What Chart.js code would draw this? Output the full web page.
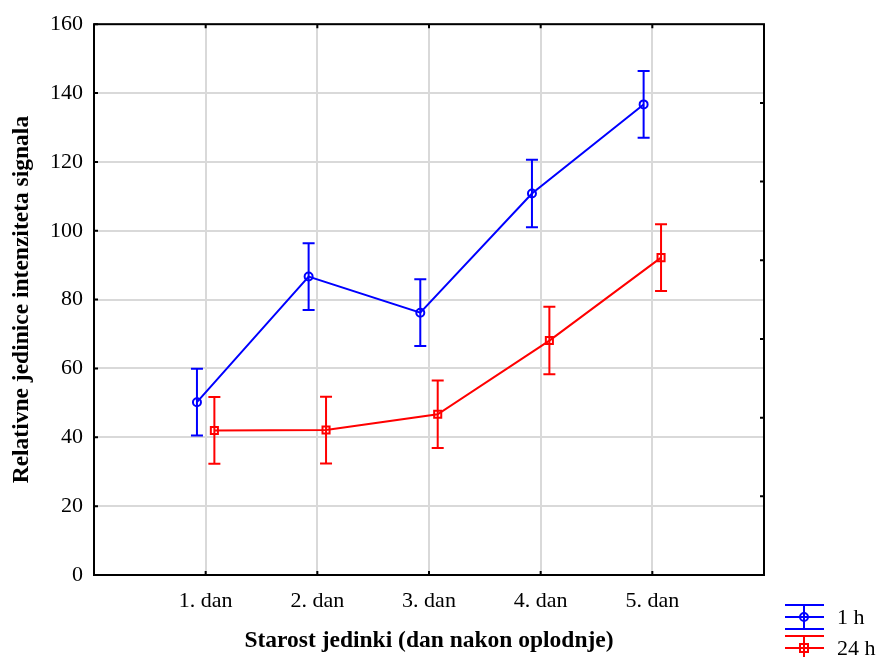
<!DOCTYPE html>
<html>
<head>
<meta charset="utf-8">
<script src="https://cdn.jsdelivr.net/npm/chart.js@4"></script>
<style>body{margin:0;background:#fff}</style>
</head>
<body>
<canvas id="chart" width="880" height="657"></canvas>
<script>
// podaci ocitani sa slike
const categories = ['1. dan', '2. dan', '3. dan', '4. dan', '5. dan'];
const seriesNames = ['1 h', '24 h'];
const values1h = [50.2, 86.7, 76.2, 110.8, 136.7];
const values24h = [42.0, 42.1, 46.7, 68.1, 92.2];
const err1h = [9.7, 9.7, 9.7, 9.8, 9.7];
const err24h = [9.7, 9.7, 9.8, 9.8, 9.7];
const colors = ['#0000ff', '#ff0000'];

const FONT = 'Liberation Serif';
const GRID = '#d9d9d9';

// pomak tacaka lijevo/desno od kategorije
function toPoints(vals, shift) {
    return vals.map((v, i) => ({x: i + 1 + shift, y: v}));
}

const errorBars = {
    id: 'errorBars',
    afterDatasetsDraw(chart) {
        const {ctx, scales: {x, y}} = chart;
        chart.data.datasets.forEach(ds => {
            ctx.save();
            ctx.strokeStyle = ds.borderColor;
            ctx.lineWidth = 2;
            ds.data.forEach((pt, j) => {
                const px = x.getPixelForValue(pt.x);
                const top = y.getPixelForValue(pt.y + ds.errors[j]);
                const bot = y.getPixelForValue(pt.y - ds.errors[j]);
                ctx.beginPath();
                ctx.moveTo(px, top); ctx.lineTo(px, bot);
                ctx.moveTo(px - 6, top); ctx.lineTo(px + 6, top);
                ctx.moveTo(px - 6, bot); ctx.lineTo(px + 6, bot);
                ctx.stroke();
            });
            ctx.restore();
        });
    }
};

const frame = {
    id: 'frame',
    afterDraw(chart) {
        const {ctx, chartArea: a, scales: {x, y}} = chart;
        ctx.save();
        ctx.strokeStyle = '#000';
        ctx.lineWidth = 2;
        ctx.strokeRect(a.left, a.top, a.width, a.height);
        ctx.beginPath();
        y.ticks.forEach(t => {
            const py = y.getPixelForValue(t.value);
            ctx.moveTo(a.left, py); ctx.lineTo(a.left + 4, py);
        });
        x.ticks.forEach(t => {
            if (t.value <= 0 || t.value >= 6) return;
            const px = x.getPixelForValue(t.value);
            ctx.moveTo(px, a.bottom); ctx.lineTo(px, a.bottom - 4);
            ctx.moveTo(px, a.top); ctx.lineTo(px, a.top + 4);
        });
        // desna osa ima 7 podjela
        for (let i = 1; i < 7; i++) {
            const py = a.bottom - i * a.height / 7;
            ctx.moveTo(a.right, py); ctx.lineTo(a.right - 4, py);
        }
        ctx.stroke();
        ctx.restore();
    }
};

const legendBox = {
    id: 'legendBox',
    afterDraw(chart) {
        const ctx = chart.ctx;
        const rows = [617, 648];
        ctx.save();
        chart.data.datasets.forEach((ds, i) => {
            const cy = rows[i];
            ctx.strokeStyle = ds.borderColor;
            ctx.lineWidth = 2;
            ctx.beginPath();
            [-12, 0, 12].forEach(d => { ctx.moveTo(785, cy + d); ctx.lineTo(824, cy + d); });
            ctx.moveTo(804, cy - 12); ctx.lineTo(804, cy + 12);
            ctx.stroke();
            ctx.beginPath();
            if (i === 0) ctx.arc(804, cy, 4, 0, Math.PI * 2);
            else ctx.rect(800, cy - 4, 8, 8);
            ctx.stroke();
            ctx.fillStyle = '#000';
            ctx.font = '22px "' + FONT + '"';
            ctx.textBaseline = 'middle';
            ctx.fillText(ds.label, 837, cy + 1);
        });
        ctx.restore();
    }
};

new Chart(document.getElementById('chart'), {
    type: 'line',
    data: {
        datasets: [
            {
                label: seriesNames[0],
                data: toPoints(values1h, -0.078),
                errors: err1h,
                borderColor: colors[0],
                borderWidth: 2,
                pointStyle: 'circle',
                pointRadius: 4,
                pointBorderWidth: 2,
                pointBackgroundColor: 'transparent',
                pointBorderColor: colors[0],
                tension: 0
            },
            {
                label: seriesNames[1],
                data: toPoints(values24h, 0.078),
                errors: err24h,
                borderColor: colors[1],
                borderWidth: 2,
                pointStyle: 'rect',
                pointRadius: 5,
                pointBorderWidth: 2,
                pointBackgroundColor: 'transparent',
                pointBorderColor: colors[1],
                tension: 0
            }
        ]
    },
    options: {
        responsive: false,
        animation: false,
        layout: {padding: {left: 0, top: 22, right: 116, bottom: 0}},
        plugins: {legend: {display: false}, tooltip: {enabled: false}},
        scales: {
            x: {
                type: 'linear',
                min: 0,
                max: 6,
                afterFit: s => { s.height = 82; },
                ticks: {
                    stepSize: 1,
                    padding: 13,
                    color: '#000',
                    font: {family: FONT, size: 22},
                    callback: v => categories[v - 1] || ''
                },
                grid: {
                    drawTicks: false,
                    lineWidth: 2,
                    color: c => (c.tick && c.tick.value > 0 && c.tick.value < 6) ? GRID : 'transparent'
                },
                border: {display: false},
                title: {
                    display: true,
                    text: 'Starost jedinki (dan nakon oplodnje)',
                    color: '#000',
                    font: {family: FONT, size: 23.5, weight: 'bold'},
                    padding: {top: 0, bottom: 2}
                }
            },
            y: {
                min: 0,
                max: 160,
                afterFit: s => { s.width = 94; },
                ticks: {
                    stepSize: 20,
                    padding: 11,
                    color: '#000',
                    font: {family: FONT, size: 22}
                },
                grid: {drawTicks: false, lineWidth: 2, color: GRID},
                border: {display: false},
                title: {
                    display: true,
                    text: 'Relativne jedinice intenziteta signala',
                    color: '#000',
                    font: {family: FONT, size: 23.5, weight: 'bold'},
                    padding: {top: 8, bottom: 0}
                }
            }
        }
    },
    plugins: [errorBars, frame, legendBox]
});
</script>
</body>
</html>
